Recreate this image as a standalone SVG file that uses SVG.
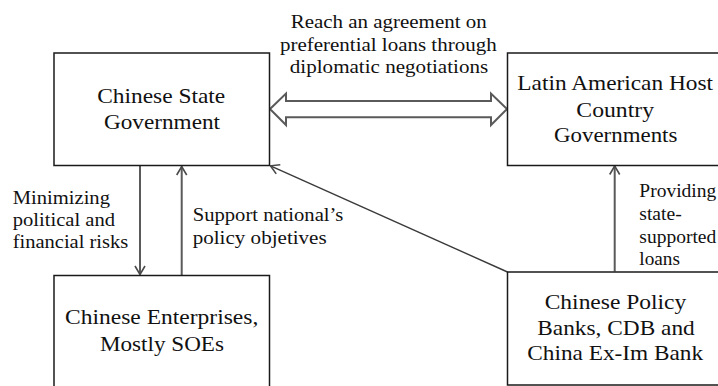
<svg xmlns="http://www.w3.org/2000/svg" width="718" height="386" viewBox="0 0 718 386">
  <style>
    .box { fill: #ffffff; stroke: #1a1a1a; stroke-width: 1.5; }
    .label { font-family: "Liberation Serif", "Times New Roman", serif; font-size: 22px; fill: #111111; text-anchor: middle; }
    .note { font-family: "Liberation Serif", "Times New Roman", serif; font-size: 19.5px; fill: #111111; }
    .mid { text-anchor: middle; }
    .flow { fill: none; stroke: #5a5a5a; stroke-width: 2; }
    .thin { fill: none; stroke: #3a3a3a; stroke-width: 1.4; }
    .block { fill: #ffffff; stroke: #5a5a5a; stroke-width: 2; stroke-linejoin: miter; }
  </style>
  <defs>
    <marker id="chev" viewBox="0 0 10 12" refX="9.5" refY="6" markerWidth="10" markerHeight="12" markerUnits="userSpaceOnUse" orient="auto">
      <path d="M1,1 L9.5,6 L1,11" fill="none" stroke="#4a4a4a" stroke-width="1.6"/>
    </marker>
  </defs>
  <rect width="718" height="386" fill="#ffffff"/>

  <g id="connectors">
    <!-- two-way block arrow between governments -->
    <path class="block" d="M270,109 L286,93.5 L286,101 L491,101 L491,93.5 L507,109 L491,125 L491,117.3 L286,117.3 L286,125 Z"/>
    <!-- state government to enterprises -->
    <line class="flow" x1="140" y1="166" x2="140" y2="274.5" marker-end="url(#chev)"/>
    <!-- enterprises back to state government -->
    <line class="flow" x1="181.7" y1="275" x2="181.7" y2="166.5" marker-end="url(#chev)"/>
    <!-- policy banks to state government -->
    <line class="thin" x1="507.5" y1="272" x2="270.5" y2="165.8" marker-end="url(#chev)"/>
    <!-- policy banks to host governments -->
    <line class="flow" x1="614.7" y1="271.5" x2="614.7" y2="166" marker-end="url(#chev)"/>
  </g>

  <g id="node-state-government">
    <rect class="box" x="54" y="53" width="215.5" height="112.5"/>
    <text class="label" x="161.2" y="103" textLength="128" lengthAdjust="spacingAndGlyphs">Chinese State</text>
    <text class="label" x="162" y="128.7" textLength="116" lengthAdjust="spacingAndGlyphs">Government</text>
  </g>

  <g id="node-host-governments">
    <rect class="box" x="507.5" y="53" width="230" height="112.5"/>
    <text class="label" x="615.2" y="90" textLength="195.7" lengthAdjust="spacingAndGlyphs">Latin American Host</text>
    <text class="label" x="615.2" y="116.5" textLength="77.7" lengthAdjust="spacingAndGlyphs">Country</text>
    <text class="label" x="615.7" y="141.7" textLength="123.3" lengthAdjust="spacingAndGlyphs">Governments</text>
  </g>

  <g id="node-enterprises">
    <rect class="box" x="54" y="275.5" width="215.5" height="130"/>
    <text class="label" x="161.7" y="324.3" textLength="193.3" lengthAdjust="spacingAndGlyphs">Chinese Enterprises,</text>
    <text class="label" x="162" y="351" textLength="124" lengthAdjust="spacingAndGlyphs">Mostly SOEs</text>
  </g>

  <g id="node-policy-banks">
    <rect class="box" x="507.5" y="272" width="230" height="113"/>
    <text class="label" x="615.5" y="309.3" textLength="141.6" lengthAdjust="spacingAndGlyphs">Chinese Policy</text>
    <text class="label" x="616" y="334.5" textLength="157.4" lengthAdjust="spacingAndGlyphs">Banks, CDB and</text>
    <text class="label" x="615.2" y="360.3" textLength="175.7" lengthAdjust="spacingAndGlyphs">China Ex-Im Bank</text>
  </g>

  <g id="connector-labels">
    <text class="note mid" x="388.7" y="27.5" textLength="196" lengthAdjust="spacingAndGlyphs">Reach an agreement on</text>
    <text class="note mid" x="388.3" y="50.5" textLength="216.7" lengthAdjust="spacingAndGlyphs">preferential loans through</text>
    <text class="note mid" x="389" y="73" textLength="198.3" lengthAdjust="spacingAndGlyphs">diplomatic negotiations</text>

    <text class="note" x="12.7" y="204" textLength="97.3" lengthAdjust="spacingAndGlyphs">Minimizing</text>
    <text class="note" x="12.7" y="226" textLength="102.3" lengthAdjust="spacingAndGlyphs">political and</text>
    <text class="note" x="12.7" y="248.3" textLength="115.6" lengthAdjust="spacingAndGlyphs">financial risks</text>

    <text class="note" x="192.7" y="221" textLength="150.6" lengthAdjust="spacingAndGlyphs">Support national’s</text>
    <text class="note" x="192.7" y="243.5" textLength="134" lengthAdjust="spacingAndGlyphs">policy objetives</text>

    <text class="note" x="639.3" y="197">Providing</text>
    <text class="note" x="639.3" y="220.3" textLength="42.4" lengthAdjust="spacingAndGlyphs">state-</text>
    <text class="note" x="639.3" y="242.7">supported</text>
    <text class="note" x="639.3" y="265" textLength="40.7" lengthAdjust="spacingAndGlyphs">loans</text>
  </g>
</svg>
